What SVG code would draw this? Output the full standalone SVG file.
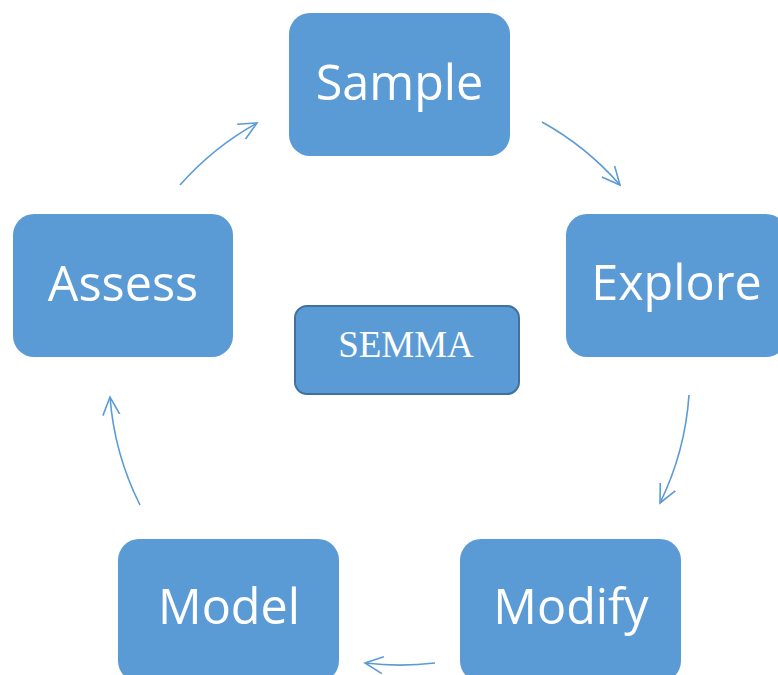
<svg xmlns="http://www.w3.org/2000/svg" width="778" height="675" viewBox="0 0 778 675">
  <defs>
    <style>
      .box { fill: #5b9bd5; }
      .core { fill: #5b9bd5; stroke: #41719c; stroke-width: 2; }
      .label { fill: #ffffff; font-family: "Open Sans", "Noto Sans", sans-serif; font-size: 48.5px; text-anchor: middle; }
      .core-label { fill: #ffffff; font-family: "Liberation Serif", "Times New Roman", serif; font-size: 37px; text-anchor: middle; }
      .flow { fill: none; stroke: #5b9bd5; stroke-width: 1.6; }
    </style>
    <marker id="open-arrow" viewBox="0 0 20 20" refX="18" refY="10" markerWidth="20" markerHeight="20" markerUnits="userSpaceOnUse" orient="auto">
      <path d="M0,1.5 L18,10 L0,18.5" fill="none" stroke="#5b9bd5" stroke-width="1.6"/>
    </marker>
  </defs>

  <!-- cycle arrows, arcs around a common centre (400,380) -->
  <g id="connectors">
    <path class="flow" d="M542,122 A290,290 0 0 1 620,185" marker-end="url(#open-arrow)"/>
    <path class="flow" d="M689,395 A290,290 0 0 1 660,503" marker-end="url(#open-arrow)"/>
    <path class="flow" d="M435,663 A290,290 0 0 1 365,663" marker-end="url(#open-arrow)"/>
    <path class="flow" d="M140,505 A290,290 0 0 1 110,397" marker-end="url(#open-arrow)"/>
    <path class="flow" d="M180,185 A290,290 0 0 1 257,123" marker-end="url(#open-arrow)"/>
  </g>

  <g id="sample">
    <rect class="box" x="289" y="13" width="221" height="143" rx="21"/>
    <text class="label" x="399.5" y="100">Sample</text>
  </g>
  <g id="explore">
    <rect class="box" x="566" y="214" width="221" height="143" rx="21"/>
    <text class="label" x="676.5" y="300">Explore</text>
  </g>
  <g id="modify">
    <rect class="box" x="460" y="539" width="221" height="143" rx="21"/>
    <text class="label" x="571" y="624">Modify</text>
  </g>
  <g id="model">
    <rect class="box" x="118" y="539" width="221" height="143" rx="21"/>
    <text class="label" x="229" y="624">Model</text>
  </g>
  <g id="assess">
    <rect class="box" x="13" y="214" width="220" height="143" rx="21"/>
    <text class="label" x="123" y="301">Assess</text>
  </g>
  <g id="semma">
    <rect class="core" x="295" y="306" width="224" height="88" rx="12"/>
    <text class="core-label" x="406" y="357">SEMMA</text>
  </g>
</svg>
